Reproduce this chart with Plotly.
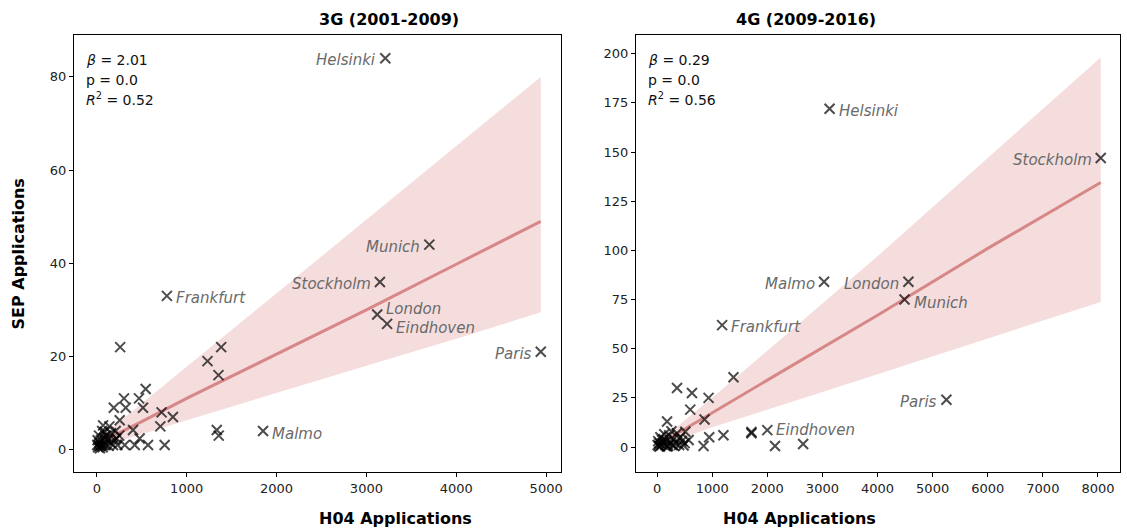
import plotly.graph_objects as go

W, H = 1127, 530

# ---------------- 3G data ----------------
g3_x = [5, 10, 15, 20, 25, 30, 40, 45, 50, 60, 70, 80, 90, 100, 110, 120, 130, 150, 160, 180,
        200, 210, 230, 250, 35, 65, 140, 95, 70,
        260, 1384, 1232, 1354, 544, 303, 470, 189, 322, 514, 721, 847, 255, 707, 403, 1335,
        1357, 755, 570, 477, 422, 311, 218,
        3210, 3700, 3150, 3120, 3230, 4940, 780, 1850]
g3_y = [1, 2, 0.5, 1, 3, 1.5, 0.8, 2, 1, 4, 1, 2.5, 3.8, 1, 3, 2, 0.8, 1.5, 3.5, 1,
        2, 4, 1, 3, 0.3, 0.5, 5, 3, 5.2,
        22, 22, 19, 16, 13, 11, 11, 9, 9, 9, 8, 7, 6.3, 5, 4.2, 4.2,
        3, 1, 1, 2.4, 1, 1, 2.4,
        84, 44, 36, 29, 27, 21, 33, 4]
g3_city = [""] * 52 + ["Helsinki", "Munich", "Stockholm", "London", "Eindhoven", "Paris",
                       "Frankfurt", "Malmo"]
g3_side = [""] * 52 + ["left", "left", "left", "right", "right", "left", "right", "right"]
g3_vshift = [0] * 52 + [0, 0, 0, 8, -2, 0, 0, -1]
g3_stats = ["2.01", "0.0", "0.52"]
g3_fit_x = [0, 500, 1000, 2000, 3000, 4000, 4940]
g3_fit_y = [1.2, 6, 11, 20.5, 30, 39.8, 49]
g3_hi = [2, 9.9, 17.7, 33.5, 49.2, 65, 80]
g3_lo = [0.4, 3.3, 6.3, 12.2, 18, 23.8, 29.5]

# ---------------- 4G data ----------------
g4_x = [10, 20, 30, 40, 60, 80, 100, 120, 150, 170, 200, 220, 250, 280, 300, 330, 360, 400,
        420, 450, 480, 500, 50, 90, 130, 260, 180, 310,
        1386, 362, 633, 934, 602, 861, 181, 1204, 946, 843, 512, 572, 1712, 1712, 2140, 2650,
        3130, 8050, 3030, 4560, 4490, 1180, 5250, 2000]
g4_y = [1, 3, 0.5, 2, 5, 1, 2, 4, 1, 3, 0.5, 6, 2, 1, 4, 2, 7, 1,
        5, 3, 0.8, 2, 0.2, 3.5, 6.5, 8, 0.3, 0.5,
        35.5, 30, 27.5, 25, 19, 14, 13, 6, 5, 0.5, 7.8, 3.6, 7, 7.6, 0.5, 1.5,
        172, 147, 84, 84, 75, 62, 24, 8.6]
g4_city = [""] * 44 + ["Helsinki", "Stockholm", "Malmo", "London", "Munich", "Frankfurt",
                       "Paris", "Eindhoven"]
g4_side = [""] * 44 + ["right", "left", "left", "left", "right", "right", "left", "right"]
g4_vshift = [0] * 44 + [0, 0, 0, 0, -1, 0, 0, 2]
g4_stats = ["0.29", "0.0", "0.56"]
g4_fit_x = [0, 1000, 2000, 4000, 6000, 8050]
g4_fit_y = [0.8, 17.5, 34, 67, 101, 134.5]
g4_hi = [2, 25, 49, 97, 147, 198]
g4_lo = [0, 10, 19, 37, 55, 73.8]

titles = ["3G (2001-2009)", "4G (2009-2016)"]

FONT = "DejaVu Sans"
BAND = "rgba(214,120,120,0.25)"
LINE = "rgba(205,105,105,0.75)"
MARK = "rgba(0,0,0,0.70)"
LABEL = "#6a6a6a"

top_px, bot_px = 35, 472
ydom = [1 - bot_px / H, 1 - top_px / H]
xd1 = [74 / W, 562 / W]
xd2 = [637 / W, 1122 / W]

fig = go.Figure()

panels = [
    (g3_x, g3_y, g3_city, g3_side, g3_vshift, g3_stats, g3_fit_x, g3_fit_y, g3_hi, g3_lo, "x", "y"),
    (g4_x, g4_y, g4_city, g4_side, g4_vshift, g4_stats, g4_fit_x, g4_fit_y, g4_hi, g4_lo, "x2", "y2"),
]

for (xs, ys, cities, sides, vs, stats, fx, fy, hi, lo, xa, ya) in panels:
    fig.add_trace(go.Scatter(x=fx + fx[::-1], y=hi + lo[::-1], fill="toself",
                             fillcolor=BAND, line=dict(width=0), mode="lines",
                             hoverinfo="skip", showlegend=False, xaxis=xa, yaxis=ya))
    fig.add_trace(go.Scatter(x=fx, y=fy, mode="lines", line=dict(color=LINE, width=3),
                             showlegend=False, xaxis=xa, yaxis=ya))
    fig.add_trace(go.Scatter(x=xs, y=ys, mode="markers",
                             marker=dict(symbol="x-thin", size=10,
                                         line=dict(width=2, color=MARK), color=MARK),
                             showlegend=False, xaxis=xa, yaxis=ya))
    for xv, yv, c, s, v in zip(xs, ys, cities, sides, vs):
        if not c:
            continue
        fig.add_annotation(x=xv, y=yv, xref=xa, yref=ya, text="<i>%s</i>" % c,
                           showarrow=False, xanchor="right" if s == "left" else "left",
                           xshift=-7 if s == "left" else 7, yshift=-2 + v,
                           font=dict(family=FONT, size=15, color=LABEL))
    dom = "x domain" if xa == "x" else "x2 domain"
    lines = ["<i>β</i> = %s" % stats[0], "p = %s" % stats[1],
             "<i>R</i><sup>2</sup> = %s" % stats[2]]
    for i, (ln, py) in enumerate(zip(lines, [60, 80, 101])):
        fig.add_annotation(x=0.02, y=1 - py / H, xref=dom, yref="paper", xanchor="left",
                           yanchor="middle", align="left", showarrow=False, text=ln,
                           yshift=2 if i == 2 else 0,
                           font=dict(family=FONT, size=14, color="#111"))

ax_common = dict(showline=True, mirror=True, linecolor="black", linewidth=1,
                 ticks="outside", ticklen=4, tickcolor="black", showgrid=False,
                 zeroline=False, tickfont=dict(family=FONT, size=13, color="#222"))

fig.update_layout(
    width=W, height=H, margin=dict(l=0, r=0, t=0, b=0),
    paper_bgcolor="white", plot_bgcolor="white",
    xaxis=dict(domain=xd1, range=[-255, 5165], tickvals=[0, 1000, 2000, 3000, 4000, 5000],
               **ax_common),
    yaxis=dict(domain=ydom, range=[-4.8, 89], tickvals=[0, 20, 40, 60, 80], **ax_common),
    xaxis2=dict(domain=xd2, range=[-385, 8400],
                tickvals=[0, 1000, 2000, 3000, 4000, 5000, 6000, 7000, 8000], **ax_common),
    yaxis2=dict(domain=ydom, range=[-12.7, 209.5],
                tickvals=[0, 25, 50, 75, 100, 125, 150, 175, 200],
                anchor="x2", **ax_common),
)
fig.update_layout(xaxis2_anchor="y2")

for dom, t in zip([xd1, xd2], titles):
    fig.add_annotation(x=(dom[0] + dom[1]) / 2, y=1 - 20 / H, xref="paper", yref="paper",
                       text="<b>%s</b>" % t, showarrow=False, yanchor="middle",
                       font=dict(family=FONT, size=16, color="black"))
    fig.add_annotation(x=(dom[0] + dom[1]) / 2, y=1 - 518 / H, xref="paper", yref="paper",
                       text="<b>H04 Applications</b>", showarrow=False, yanchor="middle",
                       font=dict(family=FONT, size=16, color="black"))

fig.add_annotation(x=19 / W, y=(ydom[0] + ydom[1]) / 2, xref="paper", yref="paper",
                   text="<b>SEP Applications</b>", showarrow=False, textangle=-90,
                   xanchor="center", yanchor="middle",
                   font=dict(family=FONT, size=16, color="black"))

fig.write_html("out.html")
